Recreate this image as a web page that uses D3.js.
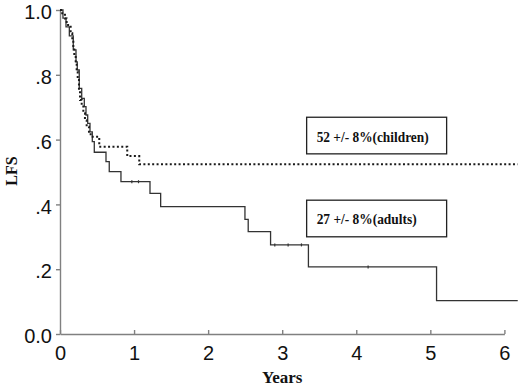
<!DOCTYPE html>
<html>
<head>
<meta charset="utf-8">
<script src="https://cdn.jsdelivr.net/npm/d3@7"></script>
<style>
  body { margin: 0; background: #fff; }
  .axis path, .axis line { stroke: #808080; stroke-width: 1.4; }
  .axis text { font-family: "Liberation Sans", Arial, sans-serif; font-size: 20px; fill: #111; }
</style>
</head>
<body>
<script>
// Kaplan-Meier LFS curves
const adultsTime = [0, 0.04, 0.081, 0.126, 0.179, 0.216, 0.233, 0.26, 0.293, 0.328, 0.351, 0.374, 0.405, 0.436, 0.463, 0.621, 0.665, 0.823, 1.215, 1.359, 2.497, 2.541, 2.843, 3.354, 5.084, 6.18];
const adultsSurv = [1.0, 0.975, 0.948, 0.92, 0.877, 0.84, 0.815, 0.758, 0.727, 0.702, 0.676, 0.65, 0.624, 0.594, 0.561, 0.532, 0.501, 0.47, 0.434, 0.393, 0.354, 0.316, 0.275, 0.207, 0.103, 0.103];
const adultsCensor = [0.97, 1.06, 2.9, 3.08, 3.26, 4.16];

const childrenTime = [0, 0.03, 0.067, 0.09, 0.144, 0.166, 0.18, 0.193, 0.212, 0.225, 0.239, 0.256, 0.27, 0.293, 0.315, 0.337, 0.36, 0.391, 0.414, 0.53, 0.908, 1.07, 6.18];
const childrenSurv = [1.0, 0.99, 0.974, 0.954, 0.928, 0.907, 0.882, 0.861, 0.835, 0.81, 0.784, 0.753, 0.722, 0.707, 0.681, 0.66, 0.64, 0.624, 0.609, 0.578, 0.549, 0.524, 0.524];

const xTicks = [0, 1, 2, 3, 4, 5, 6];
const yTicks = [0, 0.2, 0.4, 0.6, 0.8, 1.0];
const yTickLabels = ["0.0", ".2", ".4", ".6", ".8", "1.0"];
const labelChildren = "52 +/- 8%(children)";
const labelAdults = "27 +/- 8%(adults)";

let w = 520;
let h = 388;

const xScale = d3.scaleLinear().domain([0, 6]).range([60, 504.4]);
const yScale = d3.scaleLinear().domain([0, 1]).range([334, 10]);

const svg = d3.select("body").append("svg")
  .attr("width", w)
  .attr("height", h);

// axes
const xAxis = d3.axisBottom(xScale)
  .tickValues(xTicks)
  .tickFormat(d3.format("d"))
  .tickSizeInner(-4)
  .tickSizeOuter(0)
  .tickPadding(10);

const yAxis = d3.axisLeft(yScale)
  .tickValues(yTicks)
  .tickFormat(function(d, i) { return yTickLabels[i]; })
  .tickSizeInner(4)
  .tickSizeOuter(0)
  .tickPadding(4);

svg.append("g")
  .attr("class", "axis")
  .attr("transform", "translate(0," + yScale(0) + ")")
  .call(xAxis)
  .selectAll("text").attr("dy", "0.8em");

svg.append("g")
  .attr("class", "axis")
  .attr("transform", "translate(" + xScale(0) + ",0)")
  .call(yAxis)
  .selectAll("text").attr("dy", "0.43em");

// curves
const line = d3.line()
  .x(function(d) { return xScale(d[0]); })
  .y(function(d) { return yScale(d[1]); })
  .curve(d3.curveStepAfter);

const adults = adultsTime.map(function(t, i) { return [t, adultsSurv[i]]; });
const children = childrenTime.map(function(t, i) { return [t, childrenSurv[i]]; });

svg.append("path")
  .datum(adults)
  .attr("d", line)
  .attr("fill", "none")
  .attr("stroke", "#333")
  .attr("stroke-width", 1.3);

svg.append("path")
  .datum(children)
  .attr("d", line)
  .attr("fill", "none")
  .attr("stroke", "#1a1a1a")
  .attr("stroke-width", 2)
  .attr("stroke-dasharray", "2,2.4");

// censor ticks on adults curve
function survAt(t) {
  let v = adultsSurv[0];
  for (let i = 0; i < adultsTime.length; i++) {
    if (adultsTime[i] <= t) v = adultsSurv[i];
  }
  return v;
}
svg.selectAll(".censor")
  .data(adultsCensor)
  .enter()
  .append("line")
  .attr("class", "censor")
  .attr("x1", function(d) { return xScale(d); })
  .attr("x2", function(d) { return xScale(d); })
  .attr("y1", function(d) { return yScale(survAt(d)) - 1.5; })
  .attr("y2", function(d) { return yScale(survAt(d)) + 1.5; })
  .attr("stroke", "#333")
  .attr("stroke-width", 1.2);

// label boxes
function labelBox(txt, top, len) {
  const x0 = xScale(3.33), x1 = xScale(5.22);
  const y0 = yScale(top), y1 = yScale(top - 0.113);
  svg.append("rect")
    .attr("x", x0).attr("y", y0)
    .attr("width", x1 - x0).attr("height", y1 - y0)
    .attr("fill", "#fff")
    .attr("stroke", "#222")
    .attr("stroke-width", 1.3);
  svg.append("text")
    .attr("x", x0 + 10)
    .attr("y", (y0 + y1) / 2 + 6)
    .attr("textLength", len)
    .attr("lengthAdjust", "spacingAndGlyphs")
    .style("font-family", "'Liberation Serif', 'Times New Roman', serif")
    .style("font-weight", "bold")
    .style("font-size", "15px")
    .style("fill", "#111")
    .text(txt);
}
labelBox(labelChildren, 0.669, 112);
labelBox(labelAdults, 0.413, 100);

// axis titles
svg.append("text")
  .attr("x", xScale(3))
  .attr("y", 383)
  .attr("text-anchor", "middle")
  .style("font-family", "'Liberation Serif', 'Times New Roman', serif")
  .style("font-weight", "bold")
  .style("font-size", "17px")
  .style("fill", "#111")
  .text("Years");

svg.append("text")
  .attr("transform", "translate(17," + 171 + ") rotate(-90)")
  .attr("text-anchor", "middle")
  .style("font-family", "'Liberation Serif', 'Times New Roman', serif")
  .style("font-weight", "bold")
  .style("font-size", "16px")
  .style("fill", "#111")
  .text("LFS");
</script>
</body>
</html>
